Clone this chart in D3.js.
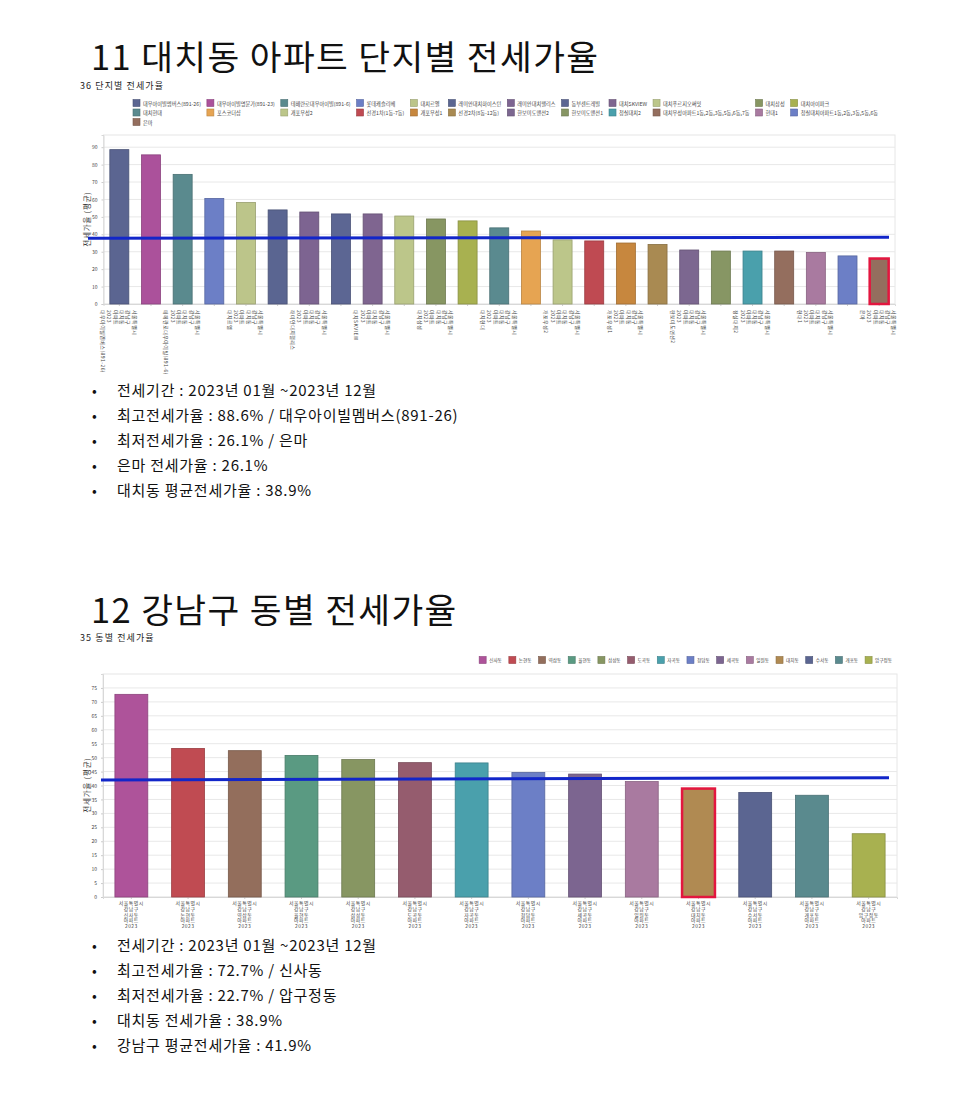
<!DOCTYPE html>
<html><head><meta charset="utf-8">
<script src="https://cdn.jsdelivr.net/npm/d3@7"></script>
<style>
body{margin:0;background:#fff}
text{font-family:"Noto Sans CJK KR","Noto Sans",sans-serif}
</style>
</head><body>
<svg id="c" width="980" height="1100"></svg>
<script>
// ---------- data ----------
const complexNames = ["대우아이빌멤버스(891-26)","대우아이빌명문가(891-23)","테헤란로대우아이빌(891-6)","롯데캐슬리베","대치르엘","래미안대치하이스턴","래미안대치팰리스","동부센트레빌","대치SKVIEW","대치푸르지오써밋","대치삼성","대치아이파크","대치현대","포스코더샵","개포우성2","선경1차(1동-7동)","개포우성1","선경2차(8동-12동)","한보미도맨션2","한보미도맨션1","청실대치2","대치우성아파트1동,2동,3동,5동,6동,7동","현대1","청실대치아파트1동,2동,3동,5동,6동","은마"];
const complexValues = [88.6,85.6,74.4,60.6,58.3,54.0,52.8,51.7,51.7,50.5,48.8,47.7,43.7,41.9,36.8,36.2,35.0,34.2,31.0,30.4,30.4,30.4,29.6,27.6,26.1];
const complexColors = ["#5b6591","#ab519b","#5a8a8e","#6c7fc6","#bcc58a","#5a6591","#7d6491","#5c6693","#7f6590","#bcc68a","#879662","#a8b150","#5a8a8f","#e6a452","#bcc68a","#bf4a52","#c7873e","#a98a52","#7c6790","#879664","#4aa0ac","#946e5e","#a97aa0","#6c7fc6","#946e5e"];
const complexAvgLine = [37.7, 38.3];
const complexYTicks = [0,10,20,30,40,50,60,70,80,90];
const complexHighlight = "은마";

const dongNames = ["신사동","논현동","역삼동","율현동","삼성동","도곡동","자곡동","청담동","세곡동","일원동","대치동","수서동","개포동","압구정동"];
const dongValues = [72.7,53.3,52.5,50.8,49.3,48.2,48.1,44.7,44.1,41.4,38.9,37.5,36.5,22.7];
const dongColors = ["#ae539a","#c04b52","#936e5c","#5a9a82","#879662","#955c6e","#4aa0ac","#6c7fc6","#7c6590","#a97aa0","#b08a52","#5b6591","#5a8a8e","#a8b150"];
const dongAvgLine = [42.0, 42.8];
const dongYTicks = [0,5,10,15,20,25,30,35,40,45,50,55,60,65,70,75];
const dongHighlight = "대치동";
const dongTypes = ["아파트","아파트","아파트","아파트","아파트","아파트","아파트","아파트","아파트","아파트","아파트","아파트","아파트","아파트"];

const labelPrefix = ["서울특별시","강남구"];
const labelYear = "2023";
const yTitle = "전세가율 (평균)";

const title1 = "11 대치동 아파트 단지별 전세가율";
const subtitle1 = "36 단지별 전세가율";
const bullets1 = ["전세기간 : 2023년 01월 ~2023년 12월","최고전세가율 : 88.6% / 대우아이빌멤버스(891-26)","최저전세가율 : 26.1% / 은마","은마 전세가율 : 26.1%","대치동 평균전세가율 : 38.9%"];
const title2 = "12 강남구 동별 전세가율";
const subtitle2 = "35 동별 전세가율";
const bullets2 = ["전세기간 : 2023년 01월 ~2023년 12월","최고전세가율 : 72.7% / 신사동","최저전세가율 : 22.7% / 압구정동","대치동 전세가율 : 38.9%","강남구 평균전세가율 : 41.9%"];

// ---------- drawing ----------
const svg = d3.select("#c");
svg.append("rect").attr("width",980).attr("height",1100).attr("fill","#fff");

function header(t, sub, yT, ySub){
  svg.append("text").attr("x",91).attr("y",yT).attr("font-size",34.5).attr("letter-spacing",1.4).attr("fill","#111").text(t);
  svg.append("text").attr("x",80).attr("y",ySub).attr("font-size",9).attr("letter-spacing",1.1).attr("fill","#222").text(sub);
}
function bulletList(items, y0){
  items.forEach((s,i)=>{
    const y = y0 + i*25;
    svg.append("text").attr("x",92).attr("y",y).attr("font-size",14).attr("fill","#111").text("•");
    svg.append("text").attr("x",117).attr("y",y).attr("font-size",15).attr("letter-spacing",0.75).attr("fill","#111").text(s);
  });
}

function plotFrame(x0,x1,y,ticks,titleY){
  const g = svg.append("g");
  g.append("rect").attr("x",x0).attr("y",y.range()[1]).attr("width",x1-x0).attr("height",y.range()[0]-y.range()[1])
    .attr("fill","#fff").attr("stroke","#e6e6e6");
  g.selectAll("line.grid").data(ticks).join("line").attr("class","grid")
    .attr("x1",x0).attr("x2",x1).attr("y1",d=>y(d)).attr("y2",d=>y(d))
    .attr("stroke","#e8e8e8").attr("stroke-width",1);
  const ax = svg.append("g").attr("transform",`translate(${x0},0)`)
    .call(d3.axisLeft(y).tickValues(ticks).tickSize(2).tickPadding(4));
  ax.select(".domain").attr("stroke","#d8d8d8");
  ax.selectAll(".tick line").attr("stroke","#ccc");
  ax.selectAll(".tick text").attr("font-size",5).attr("fill","#444");
  svg.append("text").attr("transform",`translate(${x0-17},${titleY}) rotate(-90)`)
    .attr("text-anchor","middle").attr("dominant-baseline","central").attr("font-size",7.5).attr("letter-spacing",0.8).attr("fill","#333").text(yTitle);
}

function bars(names, values, colors, x, y, highlight){
  const data = names.map((n,i)=>({n, v:values[i], c:colors[i]}));
  svg.append("g").selectAll("rect").data(data).join("rect")
    .attr("x",d=>x(d.n)).attr("width",x.bandwidth())
    .attr("y",d=>y(d.v)).attr("height",d=>y(0)-y(d.v))
    .attr("fill",d=>d.c)
    .attr("stroke",d=>d.n===highlight?"#e3163f":d3.color(d.c).darker(0.6))
    .attr("stroke-width",d=>d.n===highlight?2.5:0.8);
}

function avgLine(vals, xa, xb, y){
  svg.append("line").attr("x1",xa).attr("x2",xb).attr("y1",y(vals[0])).attr("y2",y(vals[1]))
    .attr("stroke","#1226c9").attr("stroke-width",3);
}

// ----- chart 1 -----
header(title1, subtitle1, 70, 89);
const x1 = d3.scaleBand().domain(complexNames).range([103.5,895]).paddingInner(0.4).paddingOuter(0.2);
const y1 = d3.scaleLinear().domain([0,97]).range([304,135]);
plotFrame(103.5,895,y1,complexYTicks,219);
const xa1 = svg.append("g").attr("transform","translate(0,304)").call(d3.axisBottom(x1).tickSize(2).tickFormat(""));
xa1.select(".domain").attr("stroke","#d8d8d8");
xa1.selectAll(".tick line").attr("stroke","#ccc");
bars(complexNames, complexValues, complexColors, x1, y1, complexHighlight);
avgLine(complexAvgLine, 88, 889, y1);

// rotated x labels (every other complex)
complexNames.forEach((n,i)=>{
  if(i%2!==0) return;
  const lines = [...labelPrefix, "대치동", "아파트", labelYear, n];
  const lh = 6.3;
  const g = svg.append("g").attr("transform",`translate(${x1(n)+x1.bandwidth()/2},310) rotate(90)`);
  lines.forEach((s,k)=>{
    g.append("text").attr("x",0).attr("y",(k-(lines.length-1)/2)*lh)
      .attr("dominant-baseline","central").attr("font-size",5).attr("letter-spacing",0.45).attr("fill","#444").text(s);
  });
});

// legend 1 (grid)
(function(){
  const cols = 12, fs = 5.2, sw = 7, sh = 7, gapT = 3, gapC = 6;
  const tmp = svg.append("g");
  const widths = complexNames.map(n=>{
    const t = tmp.append("text").attr("font-size",fs).text(n);
    const w = t.node().getComputedTextLength(); t.remove(); return w;
  });
  tmp.remove();
  const colW = d3.range(cols).map(c=>d3.max(complexNames.map((n,i)=>i%cols===c?widths[i]:0)));
  const colX = [133];
  for(let c=1;c<cols;c++) colX.push(colX[c-1]+sw+gapT+colW[c-1]+gapC);
  const g = svg.append("g");
  complexNames.forEach((n,i)=>{
    const c = i%cols, r = Math.floor(i/cols);
    const yy = 103 + r*9.5;
    g.append("rect").attr("x",colX[c]).attr("y",yy-sh/2).attr("width",sw).attr("height",sh)
      .attr("fill",complexColors[i]).attr("stroke",d3.color(complexColors[i]).darker(0.6)).attr("stroke-width",0.6);
    g.append("text").attr("x",colX[c]+sw+gapT).attr("y",yy).attr("dominant-baseline","central")
      .attr("font-size",fs).attr("fill","#444").text(n);
  });
})();

bulletList(bullets1, 396);

// ----- chart 2 -----
header(title2, subtitle2, 623, 641);
const x2 = d3.scaleBand().domain(dongNames).range([103,897]).paddingInner(0.42).paddingOuter(0.21);
const y2 = d3.scaleLinear().domain([0,80]).range([897,674]);
plotFrame(103,897,y2,dongYTicks,785);
const xa2 = svg.append("g").attr("transform","translate(0,897)").call(d3.axisBottom(x2).tickSize(2).tickFormat(""));
xa2.select(".domain").attr("stroke","#d8d8d8");
xa2.selectAll(".tick line").attr("stroke","#ccc");
bars(dongNames, dongValues, dongColors, x2, y2, dongHighlight);
avgLine(dongAvgLine, 101, 889, y2);

dongNames.forEach((n,i)=>{
  const lines = [...labelPrefix, n, dongTypes[i], labelYear];
  const cx = x2(n)+x2.bandwidth()/2;
  lines.forEach((s,k)=>{
    svg.append("text").attr("x",cx).attr("y",902.5+k*5.8).attr("text-anchor","middle")
      .attr("dominant-baseline","central").attr("font-size",4.9).attr("letter-spacing",0.5).attr("fill","#444").text(s);
  });
});

// legend 2 (flow, right aligned)
(function(){
  const fs = 4.6, sw = 7, sh = 7, gapT = 3, gapI = 7;
  const g = svg.append("g");
  const items = dongNames.map((n,i)=>{
    const t = g.append("text").attr("font-size",fs).attr("dominant-baseline","central").attr("fill","#444").text(n);
    return {n, c:dongColors[i], t, w:t.node().getComputedTextLength()};
  });
  const total = d3.sum(items, d=>sw+gapT+d.w) + gapI*(items.length-1);
  let xx = 892 - total;
  const yy = 660;
  items.forEach(d=>{
    g.append("rect").attr("x",xx).attr("y",yy-sh/2).attr("width",sw).attr("height",sh)
      .attr("fill",d.c).attr("stroke",d3.color(d.c).darker(0.6)).attr("stroke-width",0.6);
    d.t.attr("x",xx+sw+gapT).attr("y",yy);
    xx += sw+gapT+d.w+gapI;
  });
})();

bulletList(bullets2, 951);
</script>
</body></html>
